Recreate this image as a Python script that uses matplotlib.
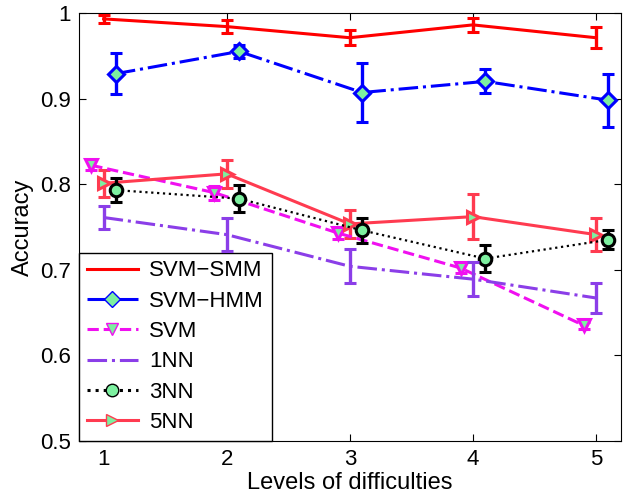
import numpy as np
import matplotlib
matplotlib.use("Agg")
import matplotlib.pyplot as plt
from matplotlib.lines import Line2D

plt.rcParams['font.family'] = ['Liberation Sans', 'DejaVu Sans']

levels = np.array([1, 2, 3, 4, 5])

smm = [0.993, 0.984, 0.971, 0.986, 0.971]
smm_err = [0.005, 0.008, 0.009, 0.008, 0.012]
hmm = [0.929, 0.955, 0.907, 0.920, 0.898]
hmm_err = [0.024, 0.008, 0.034, 0.014, 0.031]
svm = [0.822, 0.790, 0.743, 0.702, 0.635]
svm_err = [0.006, 0.008, 0.007, 0.006, 0.004]
nn1 = [0.761, 0.741, 0.704, 0.689, 0.667]
nn1_err = [0.013, 0.019, 0.020, 0.020, 0.0175]
nn3 = [0.793, 0.783, 0.746, 0.713, 0.735]
nn3_err = [0.014, 0.016, 0.0146, 0.016, 0.011]
nn5 = [0.801, 0.812, 0.7535, 0.762, 0.741]
nn5_err = [0.016, 0.016, 0.016, 0.026, 0.019]

green = '#7df0a0'

# style per series: (label, x offset, y, err, colour, linestyle, marker, size)
series = [
    ('SVM\u2212SMM', 0.0, smm, smm_err, '#ff0000', '-', None, 0),
    ('SVM\u2212HMM', 0.1, hmm, hmm_err, '#0000ff', '-.', 'D', 8),
    ('SVM', -0.1, svm, svm_err, '#f010f0', '--', 'v', 9),
    ('1NN', 0.0, nn1, nn1_err, '#8b3ee8', '-.', None, 0),
    ('3NN', 0.1, nn3, nn3_err, 'black', ':', 'o', 9),
    ('5NN', 0.0, nn5, nn5_err, '#ff3b50', '-', '>', 9),
]

fig = plt.figure(figsize=(6.24, 4.96), dpi=100)
ax = fig.add_axes([0.1266, 0.111, 0.868, 0.863])

handles = []
for i, (lab, off, y, err, col, ls, mk, ms) in enumerate(series):
    lw = 1.6 if ls == ':' else 2.2
    ax.errorbar(levels + off, y, yerr=err, color=col, ls=ls, lw=lw,
                elinewidth=2.4, capsize=4.5, capthick=2.4, marker=mk, ms=ms,
                mfc=green, mec=col, mew=2.2, zorder=6 - i % 3)
    handles.append(Line2D([], [], color=col, ls=ls, lw=2.2, marker=mk, ms=ms,
                          mfc=green, mec=col, mew=1))

ax.set_xlim(0.8, 5.2)
ax.set_ylim(0.5, 1.0)
ax.set_xticks(levels)
ax.set_yticks([0.5, 0.6, 0.7, 0.8, 0.9, 1.0])
ax.set_yticklabels(['0.5', '0.6', '0.7', '0.8', '0.9', '1'])
ax.tick_params(direction='in', top=True, right=True, labelsize=16, length=5, pad=6)
ax.set_xlabel('Levels of difficulties', fontsize=17, labelpad=1)
ax.set_ylabel('Accuracy', fontsize=17, labelpad=4)

leg = ax.legend(handles, [s[0] for s in series], loc='lower left', fontsize=16,
                fancybox=False, framealpha=1, edgecolor='black',
                borderaxespad=0.0, handlelength=2.3, handletextpad=0.5,
                labelspacing=0.42, borderpad=0.35)
leg.get_frame().set_linewidth(1)

fig.savefig('out.png', dpi=100)
